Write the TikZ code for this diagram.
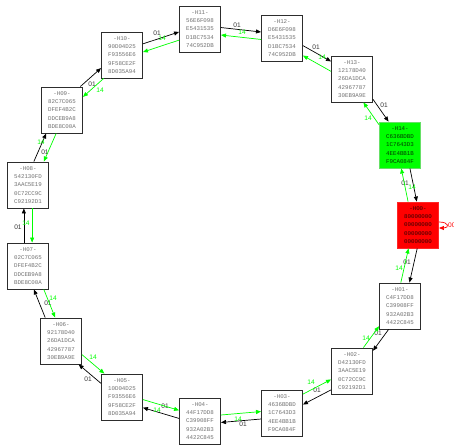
\documentclass[tikz,border=0pt]{standalone}
\usepackage{fontspec}
\setmainfont{Liberation Sans}
\newfontfamily\hexfont{Liberation Mono}
\usetikzlibrary{arrows.meta}
\definecolor{gvgreen}{RGB}{0,255,0}
\definecolor{gvred}{RGB}{255,0,0}
\definecolor{hextext}{RGB}{115,115,115}
\definecolor{boxline}{RGB}{45,45,45}
\definecolor{greentext}{RGB}{0,60,0}
\definecolor{redtext}{RGB}{50,0,0}
\tikzset{
  hexbox/.style={draw=boxline, line width=0.9pt, fill=white, minimum width=41pt,
    minimum height=46pt, inner sep=0pt, align=center, text=hextext,
    font={\hexfont\fontsize{5.8}{8.3}\selectfont}},
  greenbox/.style={draw=gvgreen!80!black!60, line width=0.9pt, fill=gvgreen, minimum width=41pt,
    minimum height=46pt, inner sep=0pt, align=center, text=greentext,
    font={\hexfont\fontsize{5.8}{8.3}\selectfont}},
  redbox/.style={draw=gvred!85!white, line width=0.9pt, fill=gvred, minimum width=41pt,
    minimum height=46pt, inner sep=0pt, align=center, text=redtext,
    font={\hexfont\fontsize{5.8}{8.3}\selectfont}},
  tipend/.style={-{Triangle[length=5pt,width=4pt]}},
  blkedge/.style={tipend, draw=black, line width=0.7pt},
  grnedge/.style={tipend, draw=gvgreen, line width=0.7pt},
  rededge/.style={tipend, draw=gvred, line width=0.7pt},
  lbl/.style={font={\fontsize{6.6}{7}\selectfont}, inner sep=0pt},
}
\newcommand\ringpair[7]{%
  \pgfmathtruncatemacro\angA{#3+10}%
  \pgfmathtruncatemacro\angB{#3+170}%
  \pgfmathtruncatemacro\angC{#3+190}%
  \pgfmathtruncatemacro\angD{#3-10}%
  \draw[blkedge] (#1.\angA) -- (#2.\angB) node[lbl, text=black!80, at={(#4,445-#5)}] {01};
  \draw[grnedge] (#2.\angC) -- (#1.\angD) node[lbl, text=gvgreen, at={(#6,445-#7)}] {14};
}
\begin{document}
\begin{tikzpicture}[x=1pt,y=1pt]
\useasboundingbox (0,0) rectangle (454,445);
\node[hexbox] (h11) at (200,416) {-H11-\\56E6F098\\E5431535\\D1BC7534\\74C952DB};
\node[hexbox] (h12) at (282,407) {-H12-\\D6E6F098\\E5431535\\D1BC7534\\74C952DB};
\node[hexbox] (h13) at (352,366) {-H13-\\12178D40\\26DA1DCA\\42967787\\30EB9A9E};
\node[greenbox] (h14) at (400,300) {-H14-\\C636BDBD\\1C7643D3\\4EE4BB1B\\F9CA084F};
\node[redbox] (h00) at (418,220) {-H00-\\80000000\\00000000\\00000000\\00000000};
\node[hexbox] (h01) at (400,139) {-H01-\\C4F17DD8\\C39908FF\\932A02B3\\4422C845};
\node[hexbox] (h02) at (352,74) {-H02-\\D42130FD\\3AAC5E19\\0C72CC9C\\C92192D1};
\node[hexbox] (h03) at (282,32) {-H03-\\4636BDBD\\1C7643D3\\4EE4BB1B\\F9CA084F};
\node[hexbox] (h04) at (200,24) {-H04-\\44F17DD8\\C39908FF\\932A02B3\\4422C845};
\node[hexbox] (h05) at (122,48) {-H05-\\10D04D25\\F93556E6\\9F58CE2F\\8D035A94};
\node[hexbox] (h06) at (61,104) {-H06-\\92178D40\\26DA1DCA\\42967787\\30EB9A9E};
\node[hexbox] (h07) at (28,179) {-H07-\\02C7C065\\DFEF4B2C\\DDCEB9A8\\BDE8C00A};
\node[hexbox] (h08) at (28,260) {-H08-\\542130FD\\3AAC5E19\\0C72CC9C\\C92192D1};
\node[hexbox] (h09) at (62,335) {-H09-\\82C7C065\\DFEF4B2C\\DDCEB9A8\\BDE8C00A};
\node[hexbox] (h10) at (122,390) {-H10-\\90D04D25\\F93556E6\\9F58CE2F\\8D035A94};

\ringpair{h10}{h11}{18}{157}{33}{162}{38}
\ringpair{h11}{h12}{-6}{237}{25}{242}{32}
\ringpair{h12}{h13}{-30}{316}{47}{322}{57}
\ringpair{h13}{h14}{-54}{384}{105}{368}{118}
\ringpair{h14}{h00}{-77}{405}{183}{412}{187}
\ringpair{h00}{h01}{-102}{407}{262}{399}{268}
\ringpair{h01}{h02}{-126}{378}{333}{366}{338}
\ringpair{h02}{h03}{-148}{317}{390}{311}{382}
\ringpair{h03}{h04}{-174}{243}{424}{238}{419}
\ringpair{h04}{h05}{163}{165}{406}{157}{410}
\ringpair{h05}{h06}{137}{88}{379}{93}{357}
\ringpair{h06}{h07}{114}{48}{303}{53}{298}
\ringpair{h07}{h08}{90}{18}{227}{26}{223}
\ringpair{h08}{h09}{66}{45}{152}{41}{142}
\ringpair{h09}{h10}{42}{92}{84}{100}{90}

\draw[rededge] ([yshift=3pt]h00.east) to[out=0, in=0, looseness=4.5]
  node[lbl, text=gvred, anchor=west, xshift=1pt] {00} ([yshift=-3pt]h00.east);
\end{tikzpicture}
\end{document}
